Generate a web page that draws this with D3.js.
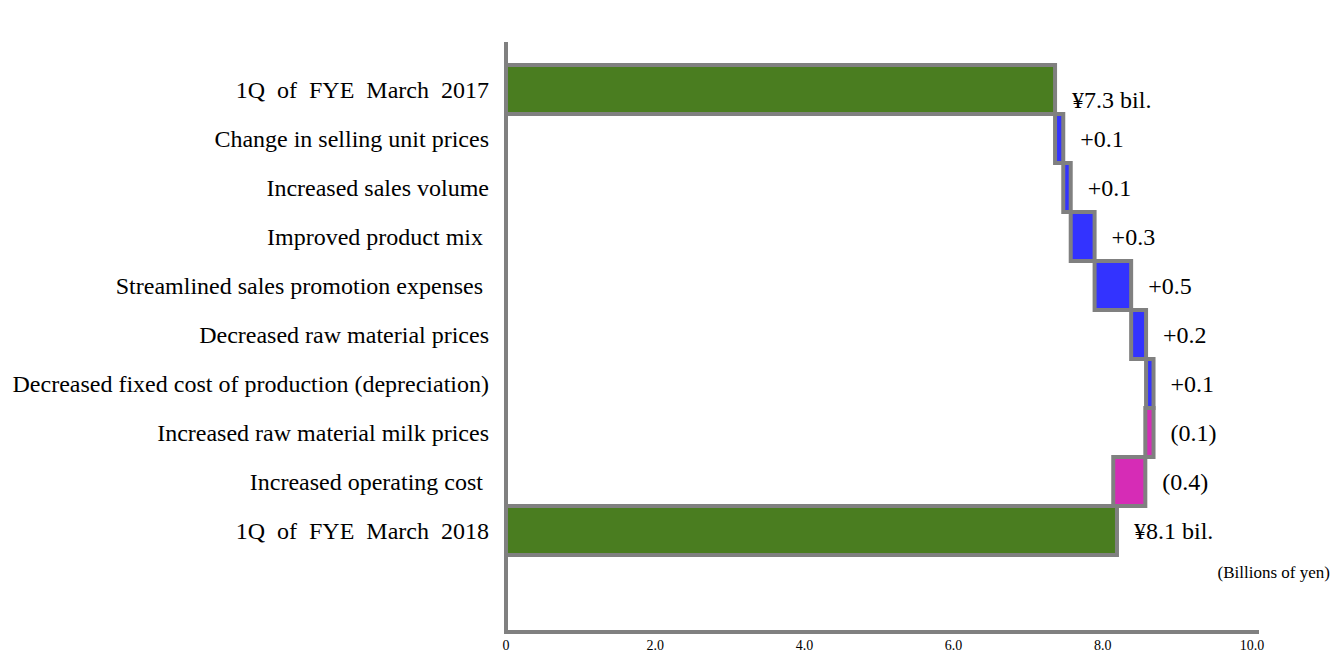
<!DOCTYPE html>
<html>
<head>
<meta charset="utf-8">
<script src="https://cdn.jsdelivr.net/npm/d3@7"></script>
<style>
  html, body { margin: 0; padding: 0; background: #fff; }
  svg { display: block; }
</style>
</head>
<body>
<svg id="chart" width="1331" height="653"></svg>
<script>
// ---- data ----
const categories = [
  "1Q of FYE March 2017",
  "Change in selling unit prices",
  "Increased sales volume",
  "Improved product mix ",
  "Streamlined sales promotion expenses ",
  "Decreased raw material prices",
  "Decreased fixed cost of production (depreciation)",
  "Increased raw material milk prices",
  "Increased operating cost ",
  "1Q  of  FYE  March  2018"
];
const startValue = 7.36;
const deltas = [0.11, 0.10, 0.32, 0.49, 0.20, 0.10, -0.11, -0.43];
const endValue = 8.19;
const valueLabels = ["¥7.3 bil.", "+0.1", "+0.1", "+0.3", "+0.5", "+0.2", "+0.1", "(0.1)", "(0.4)", "¥8.1 bil."];
const tickValues = [0, 2, 4, 6, 8, 10];
const tickLabels = ["0", "2.0", "4.0", "6.0", "8.0", "10.0"];
const unitLabel = "(Billions of yen)";

// ---- build waterfall segments ----
const segs = [];
segs.push({cat: categories[0], x0: 0, x1: startValue, type: "total"});
let run = startValue;
deltas.forEach((d, i) => {
  segs.push({cat: categories[i + 1], x0: run, x1: run + d, type: d >= 0 ? "up" : "down"});
  run += d;
});
segs.push({cat: categories[categories.length - 1], x0: 0, x1: endValue, type: "total"});
segs.forEach((s, i) => s.label = valueLabels[i]);

const colors = {total: "#4a7d20", up: "#3333ff", down: "#d62cb6"};
const serif = "'Liberation Serif', 'Times New Roman', serif";

const svg = d3.select("#chart");
const x = d3.scaleLinear().domain([0, 10]).range([506, 1252]);
const y = d3.scaleBand().domain(categories).range([65, 555]).padding(0);

// bars
svg.append("g").selectAll("rect").data(segs).join("rect")
  .attr("x", d => x(Math.min(d.x0, d.x1)))
  .attr("y", d => y(d.cat))
  .attr("width", d => Math.abs(x(d.x1) - x(d.x0)))
  .attr("height", y.bandwidth())
  .attr("fill", d => colors[d.type])
  .attr("stroke", "#808080")
  .attr("stroke-width", 4);

// axes lines
svg.append("line")
  .attr("x1", x(0)).attr("x2", x(0))
  .attr("y1", 42).attr("y2", 632)
  .attr("stroke", "#808080").attr("stroke-width", 4);
svg.append("line")
  .attr("x1", x(0) - 2).attr("x2", 1259)
  .attr("y1", 632).attr("y2", 632)
  .attr("stroke", "#808080").attr("stroke-width", 4);

// category labels
svg.append("g").selectAll("text").data(categories).join("text")
  .attr("x", 489)
  .attr("y", d => y(d) + y.bandwidth() / 2)
  .attr("dy", "0.35em")
  .attr("text-anchor", "end")
  .attr("font-family", serif)
  .attr("font-size", 24)
  .attr("fill", "#000")
  .style("white-space", "pre")
  .style("word-spacing", (d, i) => i === 0 ? "6px" : null)
  .text(d => d);

// value labels
svg.append("g").selectAll("text").data(segs).join("text")
  .attr("x", d => x(Math.max(d.x0, d.x1)) + 17)
  .attr("y", (d, i) => y(d.cat) + y.bandwidth() / 2 + (i === 0 ? 10 : 0))
  .attr("dy", "0.35em")
  .attr("font-family", serif)
  .attr("font-size", 24)
  .attr("fill", "#000")
  .text(d => d.label);

// x tick labels
svg.append("g").selectAll("text").data(tickValues).join("text")
  .attr("x", d => x(d))
  .attr("y", 645)
  .attr("dy", "0.35em")
  .attr("text-anchor", "middle")
  .attr("font-family", serif)
  .attr("font-size", 14)
  .attr("fill", "#000")
  .text((d, i) => tickLabels[i]);

svg.append("text")
  .attr("x", 1330)
  .attr("y", 572)
  .attr("dy", "0.35em")
  .attr("text-anchor", "end")
  .attr("font-family", serif)
  .attr("font-size", 17)
  .attr("fill", "#000")
  .text(unitLabel);
</script>
</body>
</html>
